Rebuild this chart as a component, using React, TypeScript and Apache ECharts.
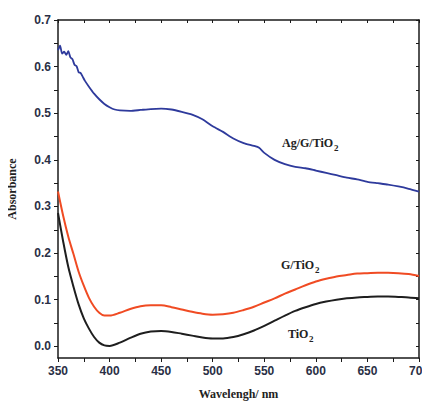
import React, { useEffect, useRef } from "react";
import * as echarts from "echarts";

const agWave = [350, 352, 354, 356, 358, 360, 362, 364, 366, 368, 370, 372, 374, 376, 380, 385, 390, 395, 400, 405, 410, 420, 430, 440, 450, 460, 470, 480, 490, 500, 510, 520, 530, 540, 545, 550, 560, 570, 580, 590, 600, 610, 620, 630, 640, 650, 660, 670, 680, 690, 700];
const agAbs = [0.635, 0.645, 0.628, 0.632, 0.625, 0.633, 0.62, 0.616, 0.604, 0.601, 0.588, 0.586, 0.578, 0.57, 0.557, 0.542, 0.53, 0.52, 0.513, 0.508, 0.506, 0.505, 0.507, 0.509, 0.51, 0.508, 0.503, 0.497, 0.487, 0.472, 0.46, 0.446, 0.436, 0.43, 0.426, 0.415, 0.4, 0.391, 0.385, 0.382, 0.377, 0.372, 0.367, 0.362, 0.358, 0.353, 0.35, 0.347, 0.343, 0.338, 0.332];

const wave = [350, 355, 360, 365, 370, 375, 380, 385, 390, 395, 400, 410, 420, 430, 440, 450, 460, 470, 480, 490, 500, 510, 520, 530, 540, 550, 560, 570, 580, 590, 600, 610, 620, 630, 640, 650, 660, 670, 680, 690, 700];
const gAbs = [0.332, 0.28, 0.235, 0.198, 0.16, 0.13, 0.104, 0.085, 0.072, 0.066, 0.066, 0.072, 0.08, 0.086, 0.088, 0.088, 0.084, 0.079, 0.074, 0.07, 0.068, 0.069, 0.072, 0.078, 0.085, 0.094, 0.103, 0.113, 0.122, 0.131, 0.139, 0.145, 0.15, 0.153, 0.156, 0.157, 0.158, 0.158, 0.157, 0.155, 0.151];
const tiAbs = [0.286, 0.225, 0.17, 0.128, 0.09, 0.06, 0.038, 0.02, 0.008, 0.002, 0.001, 0.008, 0.018, 0.027, 0.032, 0.033, 0.031, 0.027, 0.023, 0.019, 0.017, 0.017, 0.02, 0.026, 0.034, 0.044, 0.055, 0.066, 0.076, 0.084, 0.091, 0.096, 0.1, 0.103, 0.105, 0.106, 0.107, 0.107, 0.106, 0.105, 0.103];

const yLabels = [0, 0.1, 0.2, 0.3, 0.4, 0.5, 0.6, 0.7];
const yTicks = [0, 0.05, 0.1, 0.15, 0.2, 0.25, 0.3, 0.35, 0.4, 0.45, 0.5, 0.55, 0.6, 0.65, 0.7];

const AXIS = "#1a1a1a";
const LABEL = "#2a2f45";
const SERIF = "'Liberation Serif', 'DejaVu Serif', serif";
const SANS = "'Liberation Sans', Arial, sans-serif";

function labelGroup(main: string, subX: number, x: number, y: number) {
  return {
    type: "group",
    x,
    y,
    children: [
      { type: "text", x: 0, y: 0, style: { text: main, font: `bold 12px ${SERIF}`, fill: "#222", textVerticalAlign: "middle" } },
      { type: "text", x: subX, y: 5, style: { text: "2", font: `bold 9px ${SERIF}`, fill: "#222", textVerticalAlign: "middle" } },
    ],
  };
}

export default function App() {
  const ref = useRef<HTMLDivElement>(null);
  useEffect(() => {
    if (!ref.current) return;
    const chart = echarts.init(ref.current, null, { renderer: "svg" });
    const xBase = {
      type: "value",
      min: 350,
      max: 700,
      interval: 50,
      axisLine: { show: true, onZero: false, lineStyle: { color: AXIS, width: 1.5 } },
      splitLine: { show: false },
    };
    const yBase = {
      type: "value",
      min: -0.025,
      max: 0.7,
      axisLine: { show: true, onZero: false, lineStyle: { color: AXIS, width: 1.5 } },
      splitLine: { show: false },
    };
    chart.setOption({
      animation: false,
      backgroundColor: "#fff",
      grid: { left: 58, right: 11, top: 20, bottom: 43, outerBoundsMode: "none", containLabel: false },
      xAxis: [
        {
          ...xBase,
          position: "bottom",
          name: "Wavelengh/ nm",
          nameLocation: "middle",
          nameGap: 30,
          nameTextStyle: { fontFamily: SERIF, fontWeight: "bold", fontSize: 12, color: "#222" },
          axisTick: { show: true, inside: false, length: 4, lineStyle: { color: AXIS } },
          minorTick: { show: true, splitNumber: 2, length: 4, lineStyle: { color: AXIS } },
          axisLabel: { color: LABEL, fontFamily: SANS, fontWeight: "bold", fontSize: 12, margin: 7 },
        },
        {
          ...xBase,
          position: "top",
          axisTick: { show: true, inside: true, length: 3, lineStyle: { color: AXIS } },
          minorTick: { show: true, splitNumber: 2, length: 3, lineStyle: { color: AXIS } },
          axisLabel: { show: false },
        },
      ],
      yAxis: [
        {
          ...yBase,
          position: "left",
          name: "Absorbance",
          nameLocation: "middle",
          nameGap: 40,
          nameTextStyle: { fontFamily: SERIF, fontWeight: "bold", fontSize: 12, color: "#222" },
          axisTick: { show: true, inside: false, length: 4, customValues: yTicks, lineStyle: { color: AXIS } },
          axisLabel: { color: LABEL, fontFamily: SANS, fontWeight: "bold", fontSize: 12, margin: 7, customValues: yLabels, formatter: (v: number) => v.toFixed(1) },
        },
        {
          ...yBase,
          position: "right",
          axisTick: { show: true, inside: true, length: 3, customValues: yTicks, lineStyle: { color: AXIS } },
          axisLabel: { show: false },
        },
      ],
      series: [
        {
          name: "Ag/G/TiO2",
          type: "line",
          showSymbol: false,
          smooth: 0.2,
          data: agWave.map((w, i) => [w, agAbs[i]]),
          lineStyle: { color: "#2e3a9c", width: 1.8 },
        },
        {
          name: "G/TiO2",
          type: "line",
          showSymbol: false,
          smooth: 0.3,
          data: wave.map((w, i) => [w, gAbs[i]]),
          lineStyle: { color: "#f04b23", width: 2 },
        },
        {
          name: "TiO2",
          type: "line",
          showSymbol: false,
          smooth: 0.3,
          data: wave.map((w, i) => [w, tiAbs[i]]),
          lineStyle: { color: "#1e1e1e", width: 2 },
        },
      ],
      graphic: [
        labelGroup("Ag/G/TiO", 52, 282, 143),
        labelGroup("G/TiO", 34, 281, 265),
        labelGroup("TiO", 21, 288, 334),
      ],
    });
    return () => chart.dispose();
  }, []);
  return <div ref={ref} style={{ width: 430, height: 401, marginLeft: -8, marginTop: -8 }} />;
}
